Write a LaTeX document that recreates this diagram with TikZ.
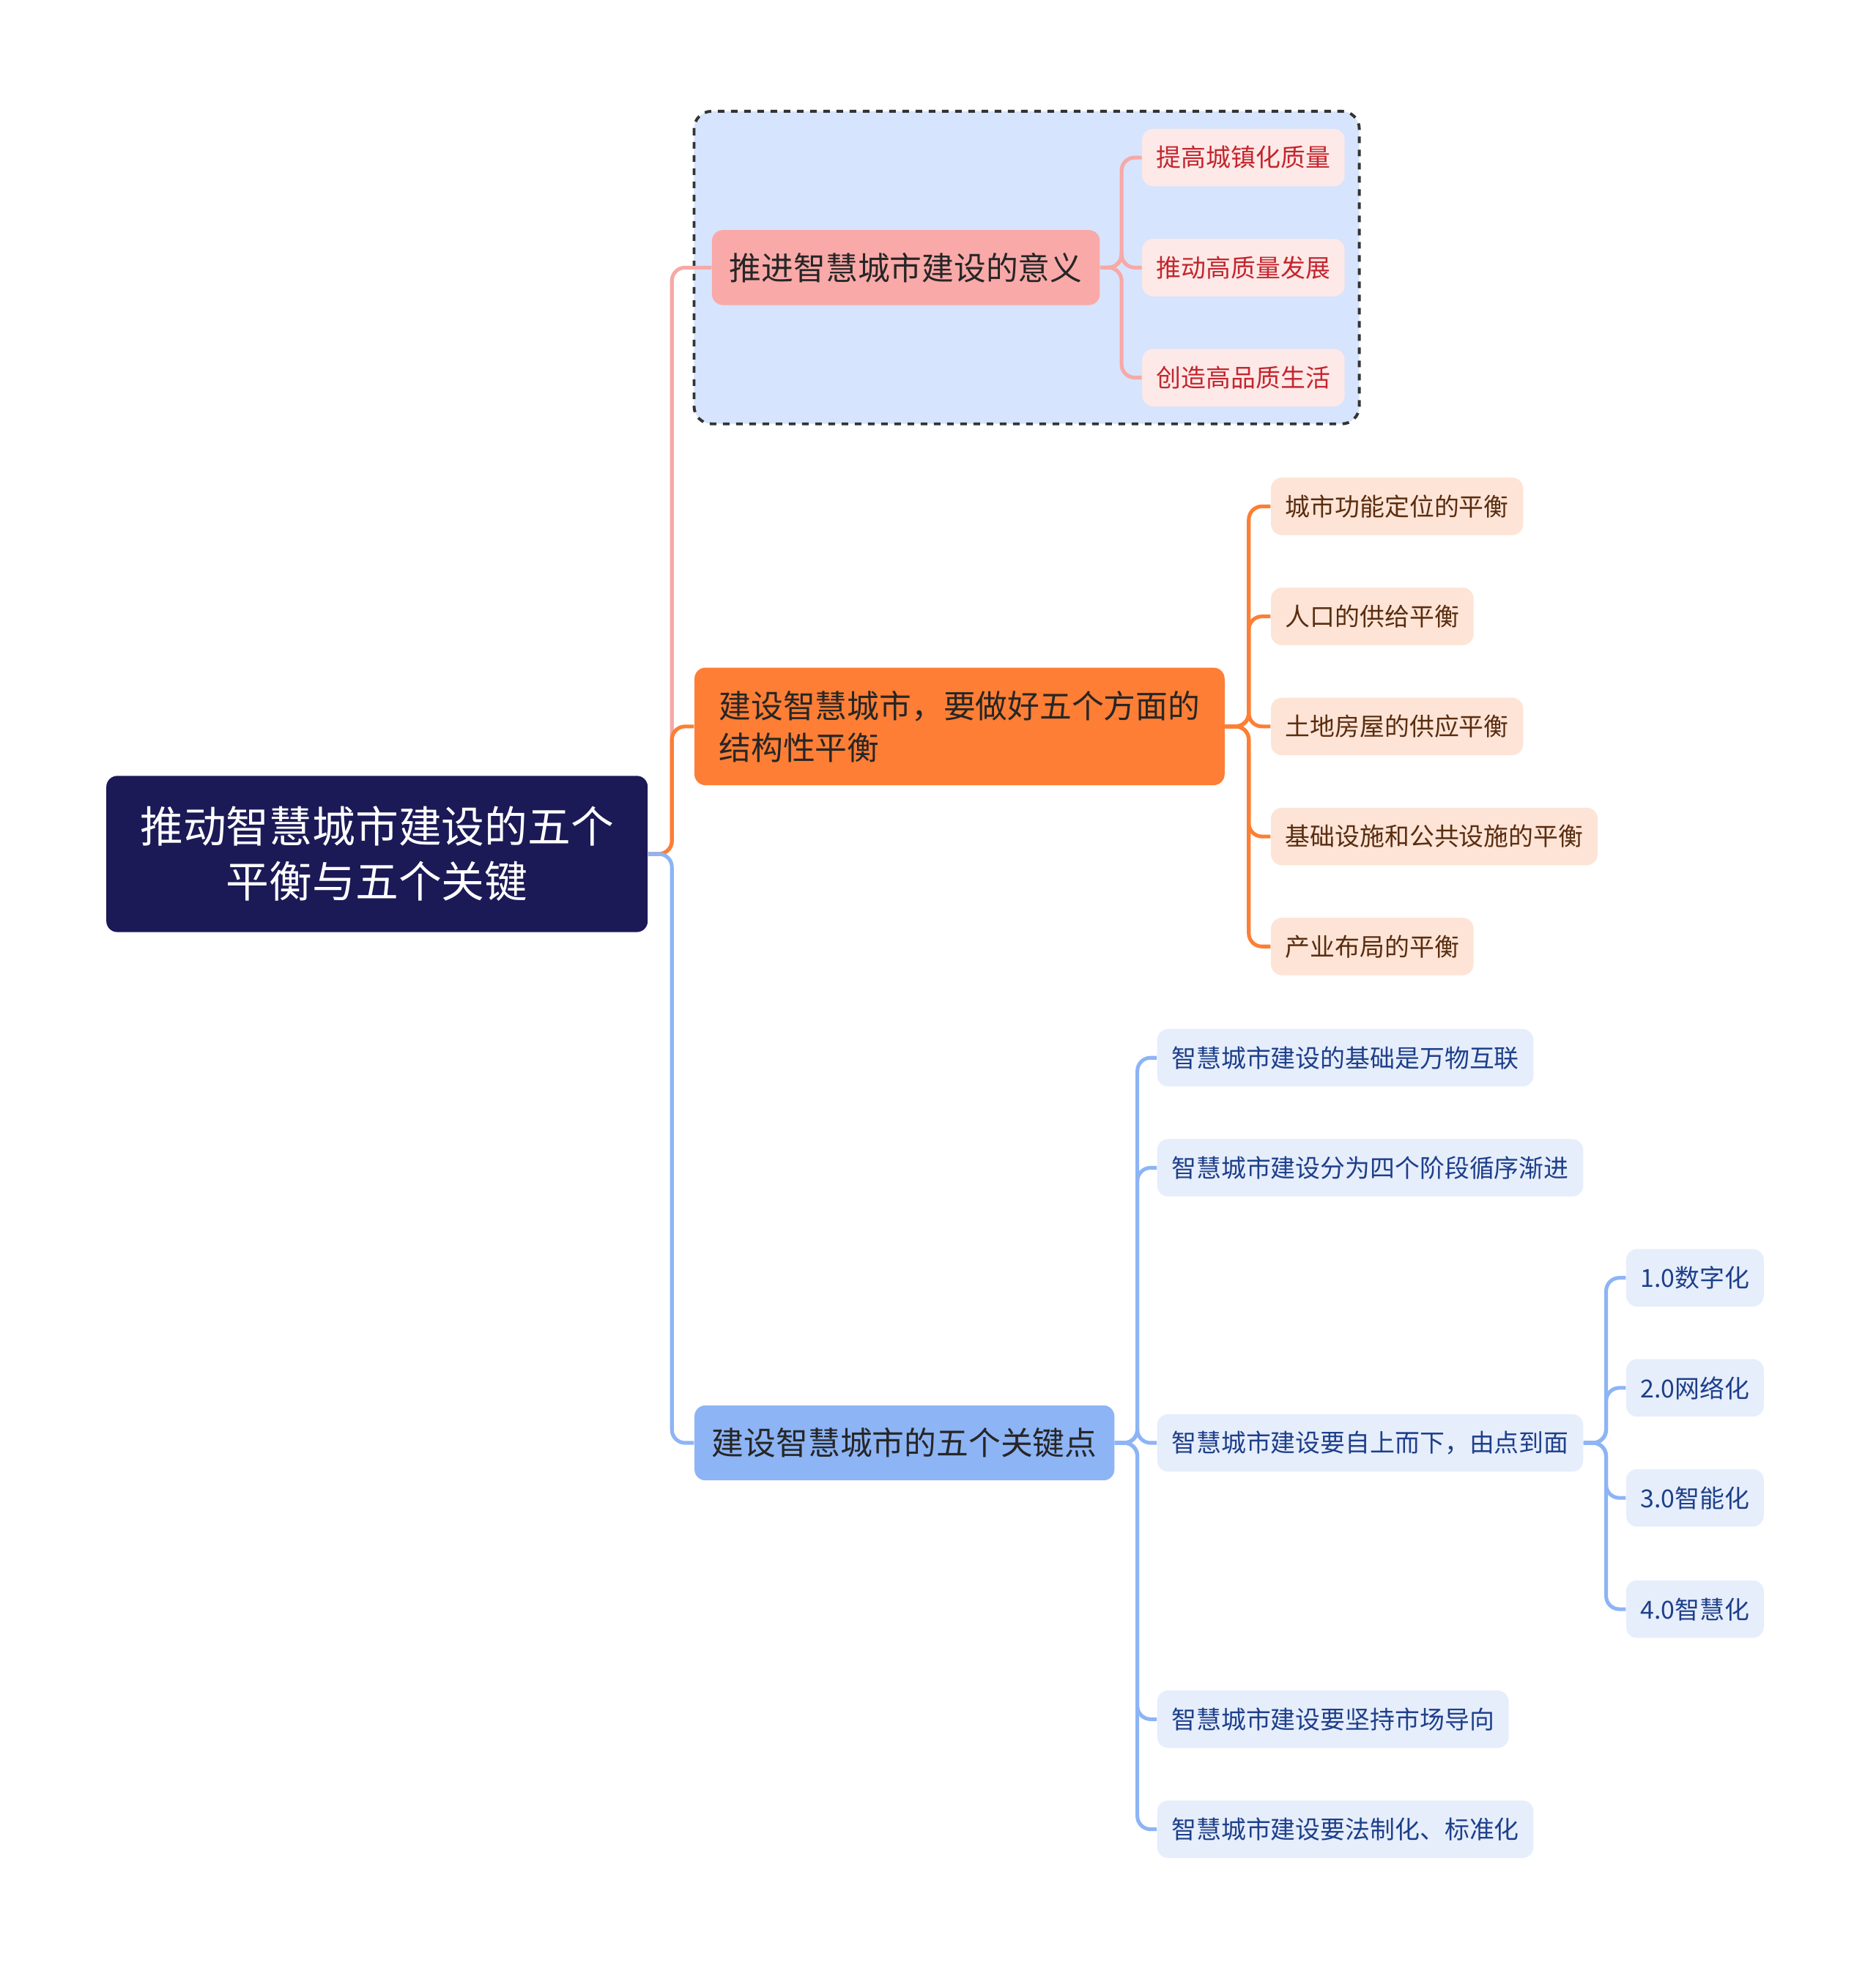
\documentclass[tikz,border=0pt]{standalone}
\usepackage{fontspec}
\setmainfont{Noto Sans CJK SC}
\usetikzlibrary{positioning, calc}
\definecolor{rootfill}{HTML}{1B1956}
\definecolor{pinkfill}{HTML}{F9A9A8}
\definecolor{pinkleaf}{HTML}{FDE9E7}
\definecolor{pinktext}{HTML}{C3262E}
\definecolor{pinkline}{HTML}{F6A9A6}
\definecolor{frame}{HTML}{D6E4FD}
\definecolor{orangefill}{HTML}{FD7E34}
\definecolor{orangeleaf}{HTML}{FDE4D6}
\definecolor{orangetext}{HTML}{5A2D10}
\definecolor{bluefill}{HTML}{8DB4F5}
\definecolor{blueleaf}{HTML}{E6EEFC}
\definecolor{bluetext}{HTML}{1E3F8A}
\begin{document}
\begin{tikzpicture}
[x=0.02cm, y=-0.02cm,
 every node/.style={rounded corners=5pt, anchor=west, align=left},
 rootbox/.style={fill=rootfill, text=white, font=\fontsize{19.6}{25}\selectfont, align=center, minimum width=8.66cm, minimum height=2.5cm, anchor=center},
 branchbox/.style={text=black!85, font=\fontsize{14.6}{19}\selectfont, inner xsep=0.28cm, minimum height=1.2cm},
 leafbox/.style={font=\fontsize{11.3}{14}\selectfont, inner xsep=0.23cm, minimum height=0.92cm},
 pinkleafbox/.style={leafbox, fill=pinkleaf, text=pinktext},
 orangeleafbox/.style={leafbox, fill=orangeleaf, text=orangetext},
 blueleafbox/.style={leafbox, fill=blueleaf, text=bluetext},
 link/.style={line width=1.7pt, rounded corners=6pt},
]
\useasboundingbox (0,-3) rectangle (1500,1571);

% dashed frame
\draw[fill=frame, dashed, line width=1.3pt, draw=black!80, rounded corners=8pt] (555,86) rectangle (1087,336);

\node[rootbox] (root) at (301.5,680) {推动智慧城市建设的五个\\平衡与五个关键};

\node[branchbox, fill=pinkfill, minimum width=6.16cm] (b1) at (569,211) {推进智慧城市建设的意义};
\node[branchbox, fill=orangefill, minimum width=8.48cm, minimum height=1.88cm] (b2) at (555,578) {建设智慧城市，要做好五个方面的\\结构性平衡};
\node[branchbox, fill=bluefill, minimum width=6.66cm] (b3) at (555,1151) {建设智慧城市的五个关键点};

% leaves
\node[pinkleafbox] (p1) at (913,123) {提高城镇化质量};
\node[pinkleafbox] (p2) at (913,211) {推动高质量发展};
\node[pinkleafbox] (p3) at (913,299) {创造高品质生活};

\node[orangeleafbox] (o1) at (1016,402) {城市功能定位的平衡};
\node[orangeleafbox] (o2) at (1016,490) {人口的供给平衡};
\node[orangeleafbox] (o3) at (1016,578) {土地房屋的供应平衡};
\node[orangeleafbox] (o4) at (1016,666) {基础设施和公共设施的平衡};
\node[orangeleafbox] (o5) at (1016,754) {产业布局的平衡};

\node[blueleafbox] (k1) at (925,843) {智慧城市建设的基础是万物互联};
\node[blueleafbox] (k2) at (925,931) {智慧城市建设分为四个阶段循序渐进};
\node[blueleafbox] (k3) at (925,1151) {智慧城市建设要自上而下，由点到面};
\node[blueleafbox] (k4) at (925,1372) {智慧城市建设要坚持市场导向};
\node[blueleafbox] (k5) at (925,1460) {智慧城市建设要法制化、标准化};

\node[blueleafbox] (s1) at (1300,1019) {1.0数字化};
\node[blueleafbox] (s2) at (1300,1107) {2.0网络化};
\node[blueleafbox] (s3) at (1300,1195) {3.0智能化};
\node[blueleafbox] (s4) at (1300,1284) {4.0智慧化};

% connectors
\coordinate (t0) at ($(root.east)+(19,0)$);
\draw[link, pinkline] (root.east) -- (t0) |- (b1.west);
\draw[link, orangefill] (root.east) -- (t0) |- (b2.west);
\draw[link, bluefill] (root.east) -- (t0) |- (b3.west);

\coordinate (t1) at ($(b1.east)+(17,0)$);
\foreach \n in {p1,p2,p3} \draw[link, pinkline] (b1.east) -- (t1) |- (\n.west);
\coordinate (t2) at ($(b2.east)+(19,0)$);
\foreach \n in {o1,o2,o3,o4,o5} \draw[link, orangefill] (b2.east) -- (t2) |- (\n.west);
\coordinate (t3) at ($(b3.east)+(18,0)$);
\foreach \n in {k1,k2,k3,k4,k5} \draw[link, bluefill] (b3.east) -- (t3) |- (\n.west);
\coordinate (t4) at ($(k3.east)+(18,0)$);
\foreach \n in {s1,s2,s3,s4} \draw[link, bluefill] (k3.east) -- (t4) |- (\n.west);
\end{tikzpicture}
\end{document}
